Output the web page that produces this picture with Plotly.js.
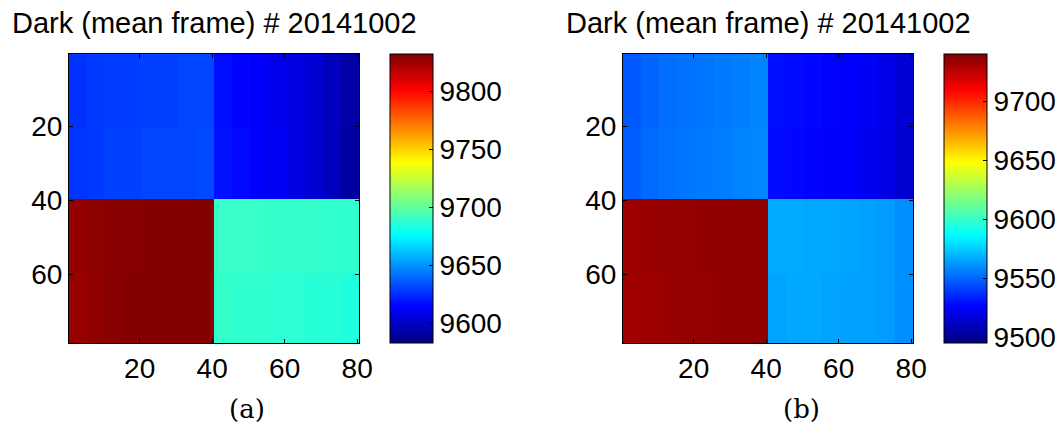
<!DOCTYPE html>
<html>
<head>
<meta charset="utf-8">
<script src="https://cdn.plot.ly/plotly-3.0.1.min.js"></script>
<style>html,body{margin:0;padding:0;background:#fff;}#chart{width:1063px;height:425px;}</style>
</head>
<body>
<div id="chart"></div>
<script>
// Block edges (pixel index bins): 80 columns, 78 rows
const colEdges = [0.5,5.5,10.5,15.5,20.5,25.5,30.5,35.5,40.5,45.5,50.5,55.5,60.5,65.5,70.5,75.5,80.5];
const rowEdges = [0.5,20.5,39.5,59.5,78.5];
const xTicks = [20,40,60,80];
const yTicks = [20,40,60];

// (a) mean dark frame values, block rows top -> bottom
const darkA_row1 = [9626,9628,9629,9629,9630,9630,9631,9631, 9617,9615,9613,9610,9607,9603,9598,9592];
const darkA_row2 = [9627,9628,9630,9630,9631,9631,9631,9632, 9618,9616,9613,9611,9607,9603,9598,9591];
const darkA_row3 = [9827,9829,9830,9830,9831,9831,9831,9831, 9690,9690,9690,9689,9689,9689,9688,9688];
const darkA_row4 = [9826,9828,9830,9831,9831,9831,9831,9831, 9689,9688,9688,9687,9687,9686,9686,9684];
const rangeA = [9583, 9832];

// (b) mean dark frame values
const darkB_row1 = [9547,9550,9552,9553,9554,9555,9556,9557, 9529,9528,9527,9526,9525,9523,9520,9515];
const darkB_row2 = [9548,9551,9553,9554,9555,9556,9557,9558, 9528,9527,9526,9525,9524,9522,9519,9514];
const darkB_row3 = [9733,9734,9735,9735,9736,9736,9736,9736, 9567,9567,9566,9566,9565,9564,9563,9560];
const darkB_row4 = [9732,9733,9734,9735,9735,9736,9736,9736, 9565,9566,9566,9565,9564,9564,9563,9560];
const rangeB = [9495, 9740];

const titleText = 'Dark (mean frame) # 20141002';
const subLabels = ['(a)', '(b)'];

const W = 1063, H = 425;
const jet = [[0,'rgb(0,0,128)'],[0.125,'rgb(0,0,255)'],[0.375,'rgb(0,255,255)'],
             [0.625,'rgb(255,255,0)'],[0.875,'rgb(255,0,0)'],[1,'rgb(128,0,0)']];
const font = 'Liberation Sans';

const plotTop = 54, plotBot = 343;
const panels = [
  {x0:69, x1:359, cb:390, z:[darkA_row1,darkA_row2,darkA_row3,darkA_row4], r:rangeA, xa:'x', ya:'y'},
  {x0:623, x1:913, cb:944, z:[darkB_row1,darkB_row2,darkB_row3,darkB_row4], r:rangeB, xa:'x2', ya:'y2'}
];

const yDom = [1 - plotBot/H, 1 - plotTop/H];
const traces = panels.map(p => ({
  type:'heatmap', x:colEdges, y:rowEdges, z:p.z, xaxis:p.xa, yaxis:p.ya,
  zmin:p.r[0], zmax:p.r[1], colorscale:jet, hoverinfo:'skip',
  colorbar:{
    x:p.cb/W, xanchor:'left', xref:'paper',
    y:(yDom[0]+yDom[1])/2, yanchor:'middle', yref:'paper',
    len:plotBot-plotTop, lenmode:'pixels', thickness:43, thicknessmode:'pixels',
    xpad:0, ypad:0, outlinewidth:1, outlinecolor:'#000',
    ticks:'inside', ticklen:4, tickcolor:'#000', dtick:50, tickformat:'d',
    tickfont:{family:font, size:28, color:'#000'}
  }
}));

function axisX(p){
  return {domain:[p.x0/W, p.x1/W], range:[0.5,80.5], tickvals:xTicks, ticks:'inside', ticklen:4,
    tickcolor:'#000', showline:true, linecolor:'#000', linewidth:1, mirror:'allticks',
    showgrid:false, zeroline:false, tickfont:{family:font, size:28, color:'#000'}};
}
function axisY(p){
  return {domain:yDom, range:[78.5,0.5], tickvals:yTicks, ticks:'inside', ticklen:4,
    tickcolor:'#000', showline:true, linecolor:'#000', linewidth:1, mirror:'allticks',
    showgrid:false, zeroline:false, tickfont:{family:font, size:28, color:'#000'}};
}

const annotations = [];
panels.forEach((p,i) => {
  annotations.push({xref:'paper', yref:'paper', x:(p.x0+p.x1)/2/W, y:1-23/H, xanchor:'center', yanchor:'middle',
    text:titleText, showarrow:false, font:{family:font, size:29, color:'#000'}});
});
const serif = 'DejaVu Serif';
annotations.push({xref:'paper', yref:'paper', x:247/W, y:1-409/H, xanchor:'center', yanchor:'middle',
  text:subLabels[0], showarrow:false, font:{family:serif, size:26, color:'#000'}});
annotations.push({xref:'paper', yref:'paper', x:801/W, y:1-409/H, xanchor:'center', yanchor:'middle',
  text:subLabels[1], showarrow:false, font:{family:serif, size:26, color:'#000'}});

const layout = {
  width:W, height:H, margin:{l:0,r:0,t:0,b:0}, paper_bgcolor:'#fff', plot_bgcolor:'#fff',
  showlegend:false,
  xaxis:Object.assign(axisX(panels[0]), {anchor:'y'}),
  yaxis:Object.assign(axisY(panels[0]), {anchor:'x'}),
  xaxis2:Object.assign(axisX(panels[1]), {anchor:'y2'}),
  yaxis2:Object.assign(axisY(panels[1]), {anchor:'x2'}),
  annotations:annotations
};

Plotly.newPlot('chart', traces, layout, {staticPlot:true, displayModeBar:false});
</script>
</body>
</html>
